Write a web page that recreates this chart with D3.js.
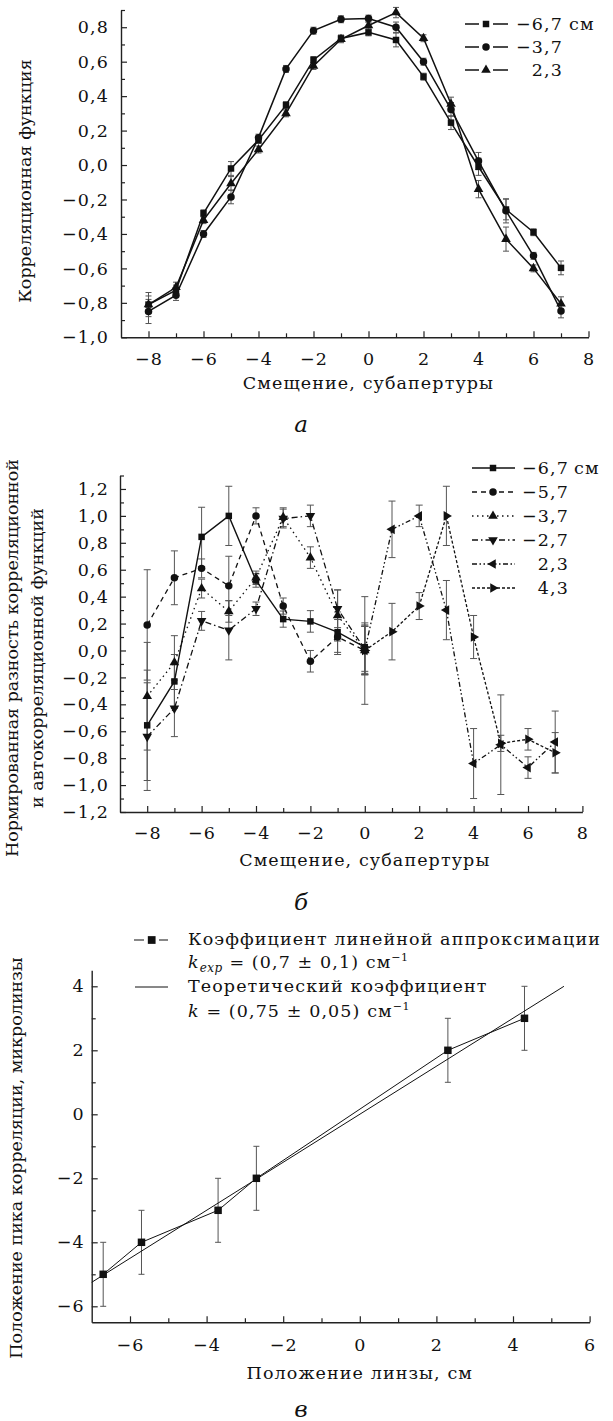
<!DOCTYPE html>
<html>
<head>
<meta charset="utf-8">
<script src="https://cdn.jsdelivr.net/npm/d3@7"></script>
<style>
  body { margin: 0; background: #fff; }
  svg text { font-family: "DejaVu Serif", serif; fill: #111; }
</style>
</head>
<body>
<svg id="fig" width="613" height="1421"></svg>
<script>
// ---- panel а : correlation function ----
const shiftA = [-8, -7, -6, -5, -4, -3, -2, -1, 0, 1, 2, 3, 4, 5, 6, 7];
const corr67 = [-0.81, -0.727, -0.28, -0.02, 0.145, 0.348, 0.61, 0.735, 0.77, 0.726, 0.513, 0.246, -0.01, -0.258, -0.39, -0.597];
const corr37 = [-0.85, -0.756, -0.40, -0.185, 0.159, 0.558, 0.78, 0.846, 0.85, 0.80, 0.60, 0.323, 0.023, -0.266, -0.527, -0.847];
const corr23 = [-0.81, -0.71, -0.32, -0.107, 0.09, 0.30, 0.575, 0.73, 0.81, 0.885, 0.736, 0.354, -0.14, -0.43, -0.60, -0.805];
const corr67Err = [0.07, 0.03, 0.02, 0.04, 0.02, 0.02, 0.02, 0.02, 0.02, 0.04, 0.02, 0.04, 0.05, 0.06, 0.02, 0.04];
const corr37Err = [0.07, 0.03, 0.02, 0.04, 0.02, 0.02, 0.02, 0.02, 0.02, 0.03, 0.02, 0.04, 0.05, 0.07, 0.02, 0.04];
const corr23Err = [0.05, 0.03, 0.02, 0.04, 0.02, 0.02, 0.02, 0.02, 0.02, 0.03, 0.02, 0.04, 0.05, 0.07, 0.02, 0.04];
const legendA = ["−6,7", "−3,7", "2,3"];

// ---- panel б : normalized difference ----
const shiftNeg = [-8, -7, -6, -5, -4, -3, -2, -1, 0];
const shiftPos = [0, 1, 2, 3, 4, 5, 6, 7];
const diff67 = [-0.556, -0.23, 0.844, 1.0, 0.52, 0.233, 0.216, 0.136, 0.025];
const diff57 = [0.19, 0.54, 0.61, 0.48, 1.0, 0.33, -0.08, 0.10, 0.0];
const diff37 = [-0.34, -0.09, 0.46, 0.29, 0.54, 0.99, 0.69, 0.26, 0.0];
const diff27 = [-0.64, -0.43, 0.22, 0.15, 0.31, 0.98, 1.0, 0.31, 0.01];
const diff23 = [0.0, 0.90, 1.0, 0.30, -0.84, -0.70, -0.87, -0.68];
const diff43 = [0.0, 0.14, 0.33, 1.0, 0.10, -0.69, -0.66, -0.76];
const diff67Err = [0.41, 0.20, 0.22, 0.22, 0.05, 0.06, 0.08, 0.15, 0.18];
const diff57Err = [0.41, 0.20, 0.07, 0.22, 0.06, 0.06, 0.08, 0.13, 0.18];
const diff37Err = [0.40, 0.20, 0.07, 0.08, 0.05, 0.07, 0.08, 0.19, 0.18];
const diff27Err = [0.40, 0.21, 0.07, 0.22, 0.05, 0.07, 0.08, 0.14, 0.18];
const diff23Err = [0.40, 0.21, 0.08, 0.22, 0.26, 0.37, 0.08, 0.23];
const diff43Err = [0.18, 0.21, 0.10, 0.22, 0.16, 0.06, 0.08, 0.15];
const legendB = ["−6,7", "−5,7", "−3,7", "−2,7", "2,3", "4,3"];

// ---- panel в : peak position vs lens position ----
const lensPos = [-6.7, -5.7, -3.7, -2.7, 2.3, 4.3];
const peakPos = [-5, -4, -3, -2, 2, 3];
const peakErr = [1, 1, 1, 1, 1, 1];
const theoryX = [-7, 5.33];
const theoryY = [-5.25, 4.0];

// ticks
const xTicksAB = [-8, -6, -4, -2, 0, 2, 4, 6, 8];
const xMinorAB = [-7, -5, -3, -1, 1, 3, 5, 7];
const yTicksA = [-1.0, -0.8, -0.6, -0.4, -0.2, 0.0, 0.2, 0.4, 0.6, 0.8];
const yMinorA = [-0.9, -0.7, -0.5, -0.3, -0.1, 0.1, 0.3, 0.5, 0.7, 0.9];
const yTicksB = [-1.2, -1.0, -0.8, -0.6, -0.4, -0.2, 0.0, 0.2, 0.4, 0.6, 0.8, 1.0, 1.2];
const yMinorB = [-1.1, -0.9, -0.7, -0.5, -0.3, -0.1, 0.1, 0.3, 0.5, 0.7, 0.9, 1.1, 1.3];
const xTicksC = [-6, -4, -2, 0, 2, 4, 6];
const xMinorC = [-5, -3, -1, 1, 3, 5];
const yTicksC = [-6, -4, -2, 0, 2, 4];
const yMinorC = [-5, -3, -1, 1, 3];

const fmtInt = d => (d < 0 ? "−" : "") + Math.abs(d);
const fmtDec = d => (d < 0 ? "−" : "") + Math.abs(d).toFixed(1).replace(".", ",");

const FS = 17.5;   // font size
const LS = 1.1;    // extra letter spacing for horizontal text

const svg = d3.select("#fig");
svg.append("rect").attr("width", 613).attr("height", 1421).attr("fill", "#fff");

function drawAxes(x, y, o) {
  const y0 = y.range()[0], x0 = x.range()[0];
  const style = g => {
    g.attr("font-size", FS);
    g.select(".domain").attr("stroke", "#222").attr("stroke-width", 1.4);
    g.selectAll(".tick line").attr("stroke", "#222").attr("stroke-width", 1.2);
    g.selectAll("text").attr("fill", "#111").attr("letter-spacing", LS);
  };
  svg.append("g").attr("transform", `translate(0,${y0})`)
    .call(d3.axisBottom(x).tickValues(o.xMajor).tickFormat(fmtInt)
      .tickSize(-6).tickSizeOuter(0).tickPadding(o.xPad))
    .call(style);
  svg.append("g").attr("transform", `translate(0,${y0})`)
    .call(d3.axisBottom(x).tickValues(o.xMinor).tickFormat("").tickSize(-4).tickSizeOuter(0))
    .call(style).call(g => g.select(".domain").remove());
  svg.append("g").attr("transform", `translate(${x0},0)`)
    .call(d3.axisLeft(y).tickValues(o.yMajor).tickFormat(o.yFmt)
      .tickSize(-6).tickSizeOuter(0).tickPadding(o.yPad))
    .call(style);
  svg.append("g").attr("transform", `translate(${x0},0)`)
    .call(d3.axisLeft(y).tickValues(o.yMinor).tickFormat("").tickSize(-4).tickSizeOuter(0))
    .call(style).call(g => g.select(".domain").remove());
}

function symbolPath(kind, size) {
  const t = kind === "square" ? d3.symbolSquare : kind === "circle" ? d3.symbolCircle : d3.symbolTriangle;
  return d3.symbol(t, size)();
}
const rot = { up: 0, down: 180, left: -90, right: 90 };

function drawSeries(layer, x, y, xs, ys, errs, s) {
  const pts = xs.map((v, i) => ({ x: v, y: ys[i], e: errs[i] }));
  layer.err.selectAll(null).data(pts).enter().append("path")
    .attr("d", d => {
      const px = x(d.x), t = y(d.y + d.e), b = y(d.y - d.e), c = s.cap;
      return `M${px},${t}V${b}M${px - c},${t}h${2 * c}M${px - c},${b}h${2 * c}`;
    })
    .attr("fill", "none").attr("stroke", "#555").attr("stroke-width", 1);
  layer.line.append("path").datum(pts)
    .attr("d", d3.line().x(d => x(d.x)).y(d => y(d.y)))
    .attr("fill", "none").attr("stroke", "#111").attr("stroke-width", s.sw)
    .attr("stroke-dasharray", s.dash || null);
  layer.mark.selectAll(null).data(pts).enter().append("path")
    .attr("transform", d => `translate(${x(d.x)},${y(d.y)}) rotate(${rot[s.dir] || 0})`)
    .attr("d", symbolPath(s.shape, s.size)).attr("fill", "#111");
}

function layers() {
  const g = svg.append("g");
  return { err: g.append("g"), line: g.append("g"), mark: g.append("g") };
}

function yTitle(lines, cy) {
  lines.forEach(l => {
    svg.append("text").attr("transform", `translate(${l.x},${cy}) rotate(-90)`)
      .attr("text-anchor", "middle").attr("font-size", FS).text(l.t);
  });
}

function hText(x, y, t, anchor) {
  return svg.append("text").attr("x", x).attr("y", y).attr("text-anchor", anchor || "start")
    .attr("font-size", FS).attr("letter-spacing", LS).text(t);
}

function panelLabel(x, y, t) {
  svg.append("text").attr("x", x).attr("y", y).attr("text-anchor", "middle")
    .attr("font-size", 23).attr("font-style", "italic").text(t);
}

// ================= panel а =================
const xA = d3.scaleLinear().domain([-9, 8]).range([121, 588.5]);
const yA = d3.scaleLinear().domain([-1.0, 0.9]).range([337.3, 10]);
drawAxes(xA, yA, { xMajor: xTicksAB, xMinor: xMinorAB, yMajor: yTicksA, yMinor: yMinorA, yFmt: fmtDec, xPad: 15, yPad: 12 });
const LA = layers();
const stylesA = [
  { shape: "square", size: 42, sw: 1.5, cap: 3 },
  { shape: "circle", size: 44, sw: 1.5, cap: 3 },
  { shape: "triangle", dir: "up", size: 40, sw: 1.5, cap: 3 }
];
[[corr67, corr67Err], [corr37, corr37Err], [corr23, corr23Err]].forEach((s, i) =>
  drawSeries(LA, xA, yA, shiftA, s[0], s[1], stylesA[i]));

legendA.forEach((lab, i) => {
  const cy = 24 + i * 23;
  svg.append("path").attr("d", `M465,${cy}H479M493,${cy}H508`).attr("stroke", "#111").attr("stroke-width", 1.5);
  svg.append("path").attr("transform", `translate(486,${cy}) rotate(${rot[stylesA[i].dir] || 0})`)
    .attr("d", symbolPath(stylesA[i].shape, stylesA[i].size)).attr("fill", "#111");
  hText(563, cy, lab, "end").attr("dy", "0.36em");
  if (i === 0) hText(569, cy, "см").attr("dy", "0.36em");
});
yTitle([{ x: 31, t: "Корреляционная функция" }], 181);
hText(xA(0), 389, "Смещение, субапертуры", "middle");
panelLabel(301, 432, "а");

// ================= panel б =================
const xB = d3.scaleLinear().domain([-9, 8]).range([120, 582.4]);
const yB = d3.scaleLinear().domain([-1.2, 1.3]).range([812, 475.5]);
drawAxes(xB, yB, { xMajor: xTicksAB, xMinor: xMinorAB, yMajor: yTicksB, yMinor: yMinorB, yFmt: fmtDec, xPad: 15, yPad: 11 });
const LB = layers();
const stylesB = [
  { shape: "square", size: 42, sw: 1.4, cap: 3.5, dash: null },
  { shape: "circle", size: 44, sw: 1.3, cap: 3.5, dash: "5,4" },
  { shape: "triangle", dir: "up", size: 40, sw: 1.3, cap: 3.5, dash: "1.5,3.5" },
  { shape: "triangle", dir: "down", size: 40, sw: 1.3, cap: 3.5, dash: "6,3,1.5,3" },
  { shape: "triangle", dir: "left", size: 40, sw: 1.3, cap: 3.5, dash: "5,2.5,1.5,2.5,1.5,2.5" },
  { shape: "triangle", dir: "right", size: 40, sw: 1.3, cap: 3.5, dash: "3,2" }
];
const seriesB = [
  [shiftNeg, diff67, diff67Err], [shiftNeg, diff57, diff57Err], [shiftNeg, diff37, diff37Err],
  [shiftNeg, diff27, diff27Err], [shiftPos, diff23, diff23Err], [shiftPos, diff43, diff43Err]
];
seriesB.forEach((s, i) => drawSeries(LB, xB, yB, s[0], s[1], s[2], stylesB[i]));

legendB.forEach((lab, i) => {
  const cy = 468 + i * 24;
  svg.append("path").attr("d", `M472,${cy}H515`).attr("stroke", "#111").attr("stroke-width", 1.3)
    .attr("stroke-dasharray", stylesB[i].dash);
  svg.append("path").attr("transform", `translate(493,${cy}) rotate(${rot[stylesB[i].dir] || 0})`)
    .attr("d", symbolPath(stylesB[i].shape, stylesB[i].size)).attr("fill", "#111");
  hText(569, cy, lab, "end").attr("dy", "0.36em");
  if (i === 0) hText(574, cy, "см").attr("dy", "0.36em");
});
yTitle([{ x: 18, t: "Нормированная разность корреляционной" }, { x: 43, t: "и автокорреляционной функций" }], 658);
hText(xB(0), 866, "Смещение, субапертуры", "middle");
panelLabel(301, 910, "б");

// ================= panel в =================
const xC = d3.scaleLinear().domain([-7, 6]).range([91.7, 589.6]);
const yC = d3.scaleLinear().domain([-6.5, 4.5]).range([1322.3, 970.3]);
drawAxes(xC, yC, { xMajor: xTicksC, xMinor: xMinorC, yMajor: yTicksC, yMinor: yMinorC, yFmt: fmtInt, xPad: 16, yPad: 7 });
const LC = layers();
LC.line.append("path")
  .attr("d", d3.line()(theoryX.map((v, i) => [xC(v), yC(theoryY[i])])))
  .attr("fill", "none").attr("stroke", "#111").attr("stroke-width", 1);
drawSeries(LC, xC, yC, lensPos, peakPos, peakErr, { shape: "square", size: 56, sw: 1, cap: 3 });

// legend в
svg.append("path").attr("d", "M134,940H144M159,940H168").attr("stroke", "#111").attr("stroke-width", 1.2);
svg.append("path").attr("transform", "translate(151.7,940)").attr("d", symbolPath("square", 60)).attr("fill", "#111");
svg.append("path").attr("d", "M135,987H168").attr("stroke", "#111").attr("stroke-width", 1);
hText(188, 945, "Коэффициент линейной аппроксимации");
const t2 = hText(188, 968, null);
t2.append("tspan").attr("font-style", "italic").text("k");
t2.append("tspan").attr("font-style", "italic").attr("font-size", 12).attr("letter-spacing", 0.5).attr("dy", 4).text("exp");
t2.append("tspan").attr("dy", -4).text(" = (0,7 ± 0,1) см");
t2.append("tspan").attr("font-size", 11).attr("letter-spacing", 0.5).attr("dy", -7).text("−1");
hText(188, 992, "Теоретический коэффициент");
const t4 = hText(188, 1017, null);
t4.append("tspan").attr("font-style", "italic").text("k");
t4.append("tspan").text(" = (0,75 ± 0,05) см");
t4.append("tspan").attr("font-size", 11).attr("letter-spacing", 0.5).attr("dy", -7).text("−1");

yTitle([{ x: 22, t: "Положение пика корреляции, микролинзы" }], 1158);
hText(xC(0), 1379, "Положение линзы, см", "middle");
panelLabel(301, 1417, "в");
</script>
</body>
</html>
